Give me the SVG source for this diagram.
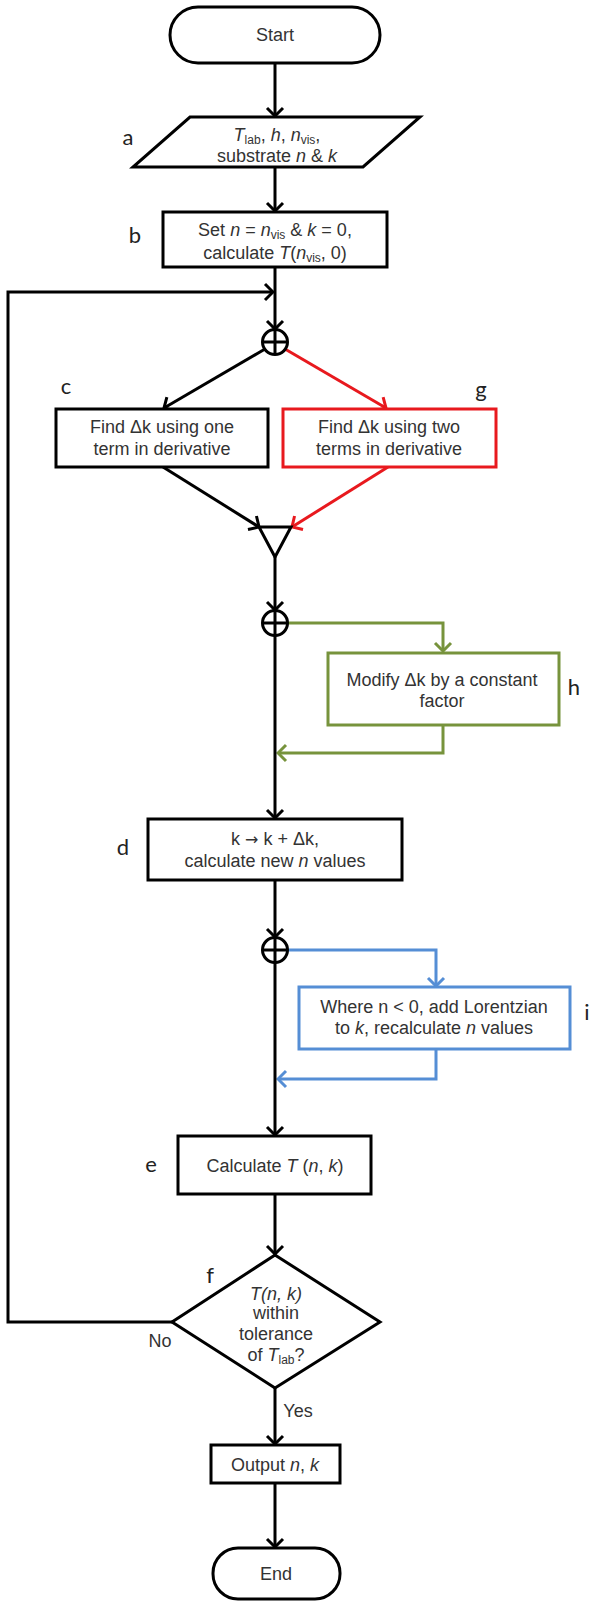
<svg xmlns="http://www.w3.org/2000/svg" width="592" height="1602" viewBox="0 0 592 1602">
<style>
.n{fill:#fff;stroke:#000;stroke-width:3}
.r{fill:#fff;stroke:#e8191e;stroke-width:3}
.gr{fill:#fff;stroke:#77933c;stroke-width:3}
.bl{fill:#fff;stroke:#558ed5;stroke-width:3}
.t{font-family:"Liberation Sans",Arial,sans-serif;font-size:18px;fill:#333;text-anchor:middle}
.lb{font-family:Lato,"Liberation Sans",sans-serif;font-size:22px;fill:#222;text-anchor:middle}
.i{font-style:italic}
.s{font-size:12px}
.ar{font-family:"DejaVu Sans",sans-serif;font-size:16px}
.c{fill:none;stroke:#000;stroke-width:3}
.cr{fill:none;stroke:#e8191e;stroke-width:3}
.cg{fill:none;stroke:#77933c;stroke-width:3}
.cb{fill:none;stroke:#558ed5;stroke-width:3}
</style>
<defs>
<marker id="ak" viewBox="-12 -11 14 22" markerWidth="14" markerHeight="22" refX="0" refY="0" orient="auto" markerUnits="userSpaceOnUse"><path d="M-8,-8 L0,0 L-8,8" fill="none" stroke="#000" stroke-width="3"/></marker>
<marker id="ar" viewBox="-12 -11 14 22" markerWidth="14" markerHeight="22" refX="0" refY="0" orient="auto" markerUnits="userSpaceOnUse"><path d="M-8,-8 L0,0 L-8,8" fill="none" stroke="#e8191e" stroke-width="3"/></marker>
<marker id="ag" viewBox="-12 -11 14 22" markerWidth="14" markerHeight="22" refX="0" refY="0" orient="auto" markerUnits="userSpaceOnUse"><path d="M-8,-8 L0,0 L-8,8" fill="none" stroke="#77933c" stroke-width="3"/></marker>
<marker id="ab" viewBox="-12 -11 14 22" markerWidth="14" markerHeight="22" refX="0" refY="0" orient="auto" markerUnits="userSpaceOnUse"><path d="M-8,-8 L0,0 L-8,8" fill="none" stroke="#558ed5" stroke-width="3"/></marker>
</defs>

<g id="connectors">
<path class="c" d="M275,63 V116" marker-end="url(#ak)"/>
<path class="c" d="M275,167 V211" marker-end="url(#ak)"/>
<path class="c" d="M275,267 V329" marker-end="url(#ak)"/>
<path class="c" d="M172,1322 H8 V292 H273" marker-end="url(#ak)"/>
<path class="c" d="M265,349 L164,408" marker-end="url(#ak)"/>
<path class="cr" d="M285,349 L386,408" marker-end="url(#ar)"/>
<path class="c" d="M163,467 L259,527" marker-end="url(#ak)"/>
<path class="cr" d="M388,467 L292,527" marker-end="url(#ar)"/>
<path class="c" d="M275,557 V610" marker-end="url(#ak)"/>
<path class="cg" d="M287.5,623 H443 V651" marker-end="url(#ag)"/>
<path class="cg" d="M443,725 V753 H278" marker-end="url(#ag)"/>
<path class="c" d="M275,635.5 V818" marker-end="url(#ak)"/>
<path class="c" d="M275,880 V937" marker-end="url(#ak)"/>
<path class="cb" d="M287.5,950 H436 V986" marker-end="url(#ab)"/>
<path class="cb" d="M436,1049 V1079 H278" marker-end="url(#ab)"/>
<path class="c" d="M275,962.5 V1135" marker-end="url(#ak)"/>
<path class="c" d="M275,1194 V1254" marker-end="url(#ak)"/>
<path class="c" d="M275,1388 V1444" marker-end="url(#ak)"/>
<path class="c" d="M275,1483 V1547" marker-end="url(#ak)"/>
</g>

<g id="start">
<rect class="n" x="170" y="7" width="210" height="56" rx="28"/>
<text class="t" x="275" y="41">Start</text>
</g>

<g id="node-a">
<polygon class="n" points="190,117 420,117 363,167 133,167"/>
<text class="t" x="277" y="141"><tspan class="i">T</tspan><tspan class="s" dy="3">lab</tspan><tspan dy="-3">, </tspan><tspan class="i">h</tspan><tspan>, </tspan><tspan class="i">n</tspan><tspan class="s" dy="3">vis</tspan><tspan dy="-3">,</tspan></text>
<text class="t" x="277" y="162">substrate <tspan class="i">n</tspan> &amp; <tspan class="i">k</tspan></text>
<text class="lb" x="128" y="145">a</text>
</g>

<g id="node-b">
<rect class="n" x="163" y="212" width="224" height="55"/>
<text class="t" x="275" y="236">Set <tspan class="i">n</tspan> = <tspan class="i">n</tspan><tspan class="s" dy="3">vis</tspan><tspan dy="-3"> &amp; </tspan><tspan class="i">k</tspan> = 0,</text>
<text class="t" x="275" y="259">calculate <tspan class="i">T</tspan>(<tspan class="i">n</tspan><tspan class="s" dy="3">vis</tspan><tspan dy="-3">, 0)</tspan></text>
<text class="lb" x="135" y="243">b</text>
</g>

<g id="split1">
<circle class="n" cx="275" cy="342" r="12.5"/>
<path class="c" d="M262.5,342 H287.5 M275,329.5 V354.5"/>
</g>

<g id="node-c">
<rect class="n" x="56" y="409" width="212" height="58"/>
<text class="t" x="162" y="433">Find Δk using one</text>
<text class="t" x="162" y="455">term in derivative</text>
<text class="lb" x="66" y="394">c</text>
</g>

<g id="node-g">
<rect class="r" x="283" y="409" width="213" height="58"/>
<text class="t" x="389" y="433">Find Δk using two</text>
<text class="t" x="389" y="455">terms in derivative</text>
<text class="lb" x="481" y="397">g</text>
</g>

<g id="merge">
<polygon class="n" points="259,527 291,527 275,557"/>
</g>

<g id="split2">
<circle class="n" cx="275" cy="623" r="12.5"/>
<path class="c" d="M262.5,623 H287.5 M275,610.5 V635.5"/>
</g>

<g id="node-h">
<rect class="gr" x="328" y="653" width="231" height="72"/>
<text class="t" x="442" y="686">Modify Δk by a constant</text>
<text class="t" x="442" y="707">factor</text>
<text class="lb" x="574" y="695">h</text>
</g>

<g id="node-d">
<rect class="n" x="148" y="819" width="254" height="61"/>
<text class="t" x="275" y="845">k <tspan class="ar">→</tspan> k + Δk,</text>
<text class="t" x="275" y="867">calculate new <tspan class="i">n</tspan> values</text>
<text class="lb" x="123" y="855">d</text>
</g>

<g id="split3">
<circle class="n" cx="275" cy="950" r="12.5"/>
<path class="c" d="M262.5,950 H287.5 M275,937.5 V962.5"/>
</g>

<g id="node-i">
<rect class="bl" x="299" y="987" width="271" height="62"/>
<text class="t" x="434" y="1013">Where n &lt; 0, add Lorentzian</text>
<text class="t" x="434" y="1034">to <tspan class="i">k</tspan>, recalculate <tspan class="i">n</tspan> values</text>
<text class="lb" x="587" y="1020">i</text>
</g>

<g id="node-e">
<rect class="n" x="178" y="1136" width="193" height="58"/>
<text class="t" x="275" y="1172">Calculate <tspan class="i">T</tspan> (<tspan class="i">n</tspan>, <tspan class="i">k</tspan>)</text>
<text class="lb" x="151" y="1172">e</text>
</g>

<g id="node-f">
<polygon class="n" points="275,1255 380,1322 275,1388 172,1322"/>
<text class="t" x="276" y="1300"><tspan class="i">T(n, k)</tspan></text>
<text class="t" x="276" y="1319">within</text>
<text class="t" x="276" y="1340">tolerance</text>
<text class="t" x="276" y="1361">of <tspan class="i">T</tspan><tspan class="s" dy="3">lab</tspan><tspan dy="-3">?</tspan></text>
<text class="lb" x="210" y="1283">f</text>
<text class="t" x="160" y="1347">No</text>
<text class="t" x="298" y="1417">Yes</text>
</g>

<g id="output">
<rect class="n" x="211" y="1445" width="129" height="38"/>
<text class="t" x="275" y="1471">Output <tspan class="i">n</tspan>, <tspan class="i">k</tspan></text>
</g>

<g id="end">
<rect class="n" x="213" y="1548" width="127" height="51" rx="25"/>
<text class="t" x="276" y="1580">End</text>
</g>
</svg>
